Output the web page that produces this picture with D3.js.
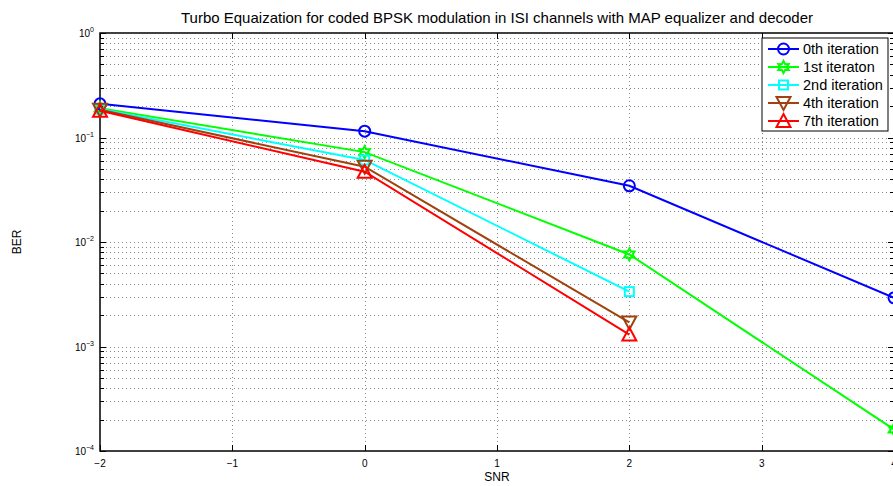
<!DOCTYPE html>
<html>
<head>
<meta charset="utf-8">
<script src="https://cdn.jsdelivr.net/npm/d3@7/dist/d3.min.js"></script>
<style>
  html, body { margin: 0; padding: 0; background: #fff; overflow: hidden; }
  svg { display: block; font-family: "Liberation Sans", Arial, sans-serif; }
</style>
</head>
<body>
<svg id="chart" width="893" height="486"></svg>
<script>
// SNR points and BER per turbo iteration
const snr = [-2, 0, 2, 4];
const ber0 = [0.21, 0.115, 0.0345, 0.00292];
const ber1 = [0.191, 0.0725, 0.0076, 0.000161];
const ber2 = [0.187, 0.061, 0.00335];
const ber4 = [0.184, 0.0525, 0.00170];
const ber7 = [0.180, 0.0470, 0.00130];

const seriesNames = ["0th iteration", "1st iteraton", "2nd iteration", "4th iteration", "7th iteration"];
const seriesColors = ["#0000ff", "#00ff00", "#00ffff", "#a0420f", "#ff0000"];
const seriesMarkers = ["circle", "hexagram", "square", "triangleDown", "triangleUp"];
const seriesValues = [ber0, ber1, ber2, ber4, ber7];

const xTicks = [-2, -1, 0, 1, 2, 3, 4];
const yDecades = [0, -1, -2, -3, -4];

const title = "Turbo Equaization for coded BPSK modulation in ISI channels with MAP equalizer and decoder";

const svg = d3.select("#chart");
const L = 100, R = 894, T = 33, B = 451;

const x = d3.scaleLinear().domain([-2, 4]).range([L, R]);
const y = d3.scaleLog().domain([1e-4, 1]).range([B, T]);

const g = svg.append("g");

// minor log positions
const minorVals = [];
for (let e = -4; e < 0; e++) for (let k = 2; k <= 9; k++) minorVals.push(k * Math.pow(10, e));
const majorVals = yDecades.map(d => Math.pow(10, d));

// dotted grid
const grid = g.append("g").attr("stroke", "#8a8a8a").attr("stroke-width", 1)
  .attr("stroke-dasharray", "1,3").attr("shape-rendering", "crispEdges");
xTicks.slice(1, -1).forEach(v => grid.append("line")
  .attr("x1", Math.round(x(v)) + 0.5).attr("x2", Math.round(x(v)) + 0.5).attr("y1", T).attr("y2", B));
minorVals.concat(majorVals.slice(1, -1)).forEach(v => grid.append("line")
  .attr("x1", L + 2).attr("x2", R).attr("y1", Math.round(y(v)) + 0.5).attr("y2", Math.round(y(v)) + 0.5));

// ticks (inward, all four sides)
const ticks = g.append("g").attr("stroke", "#000").attr("stroke-width", 1).attr("shape-rendering", "crispEdges");
xTicks.forEach(v => {
  const px = Math.round(x(v)) + 0.5;
  ticks.append("line").attr("x1", px).attr("x2", px).attr("y1", B).attr("y2", B - 6);
  ticks.append("line").attr("x1", px).attr("x2", px).attr("y1", T).attr("y2", T + 6);
});
majorVals.forEach(v => {
  const py = Math.round(y(v)) + 0.5;
  ticks.append("line").attr("x1", L).attr("x2", L + 6).attr("y1", py).attr("y2", py);
  ticks.append("line").attr("x1", R).attr("x2", R - 6).attr("y1", py).attr("y2", py);
});
minorVals.forEach(v => {
  const py = Math.round(y(v)) + 0.5;
  ticks.append("line").attr("x1", L).attr("x2", L + 4).attr("y1", py).attr("y2", py);
  ticks.append("line").attr("x1", R).attr("x2", R - 4).attr("y1", py).attr("y2", py);
});

// axes box
g.append("rect").attr("x", L).attr("y", T).attr("width", R - L).attr("height", B - T)
  .attr("fill", "none").attr("stroke", "#000").attr("stroke-width", 1.5);

// x tick labels
xTicks.forEach(v => g.append("text").attr("x", x(v)).attr("y", B + 16)
  .attr("text-anchor", "middle").attr("font-size", 10).attr("fill", "#000")
  .text(v < 0 ? "\u2212" + Math.abs(v) : String(v)));

// y tick labels 10^k
yDecades.forEach(d => {
  const t = g.append("text").attr("x", L - 6).attr("y", y(Math.pow(10, d)) + 4)
    .attr("text-anchor", "end").attr("font-size", 10).attr("fill", "#000");
  t.append("tspan").text("10");
  t.append("tspan").attr("dy", -5).attr("font-size", 7).text(d < 0 ? "\u2212" + Math.abs(d) : String(d));
});

// marker drawing
function hexagramPath(r) {
  const pts = [];
  for (let i = 0; i < 12; i++) {
    const a = -Math.PI / 2 + i * Math.PI / 6;
    const rr = i % 2 === 0 ? r : r * 0.55;
    pts.push([rr * Math.cos(a), rr * Math.sin(a)]);
  }
  return "M" + pts.map(p => p.join(",")).join("L") + "Z";
}
function drawMarker(sel, type, cx, cy, color) {
  const common = s => s.attr("fill", "none").attr("stroke", color).attr("stroke-width", 2);
  if (type === "circle") common(sel.append("circle").attr("cx", cx).attr("cy", cy).attr("r", 5.5));
  else if (type === "square") common(sel.append("rect").attr("x", cx - 4.5).attr("y", cy - 4.5).attr("width", 9).attr("height", 9));
  else if (type === "hexagram") common(sel.append("path").attr("d", hexagramPath(6)).attr("transform", `translate(${cx},${cy})`));
  else if (type === "triangleUp") common(sel.append("path").attr("d", "M0,-7L7,6L-7,6Z").attr("transform", `translate(${cx},${cy})`));
  else if (type === "triangleDown") common(sel.append("path").attr("d", "M0,7L7,-6L-7,-6Z").attr("transform", `translate(${cx},${cy})`));
}

// series
const line = d3.line().x(d => x(d[0])).y(d => y(d[1]));
seriesValues.forEach((vals, i) => {
  const pts = vals.map((v, j) => [snr[j], v]);
  const sg = g.append("g");
  sg.append("path").attr("d", line(pts)).attr("fill", "none")
    .attr("stroke", seriesColors[i]).attr("stroke-width", 2);
  pts.forEach(p => drawMarker(sg, seriesMarkers[i], x(p[0]), y(p[1]), seriesColors[i]));
});

// legend
const lg = g.append("g");
lg.append("rect").attr("x", 762).attr("y", 38).attr("width", 126).attr("height", 93)
  .attr("fill", "#fff").attr("stroke", "#000").attr("stroke-width", 1);
seriesNames.forEach((name, i) => {
  const ly = 49 + i * 18;
  lg.append("line").attr("x1", 768).attr("x2", 799).attr("y1", ly).attr("y2", ly)
    .attr("stroke", seriesColors[i]).attr("stroke-width", 2);
  drawMarker(lg, seriesMarkers[i], 783.5, ly, seriesColors[i]);
  lg.append("text").attr("x", 803).attr("y", ly + 5).attr("font-size", 14.5).attr("fill", "#000").text(name);
});

// title and axis labels
svg.append("text").attr("x", (L + R) / 2).attr("y", 23).attr("text-anchor", "middle")
  .attr("font-size", 15).attr("fill", "#000").text(title);
svg.append("text").attr("x", (L + R) / 2).attr("y", 481).attr("text-anchor", "middle")
  .attr("font-size", 12).attr("fill", "#000").text("SNR");
svg.append("text").attr("transform", `translate(21,${(T + B) / 2}) rotate(-90)`)
  .attr("text-anchor", "middle").attr("font-size", 12).attr("fill", "#000").text("BER");
</script>
</body>
</html>
